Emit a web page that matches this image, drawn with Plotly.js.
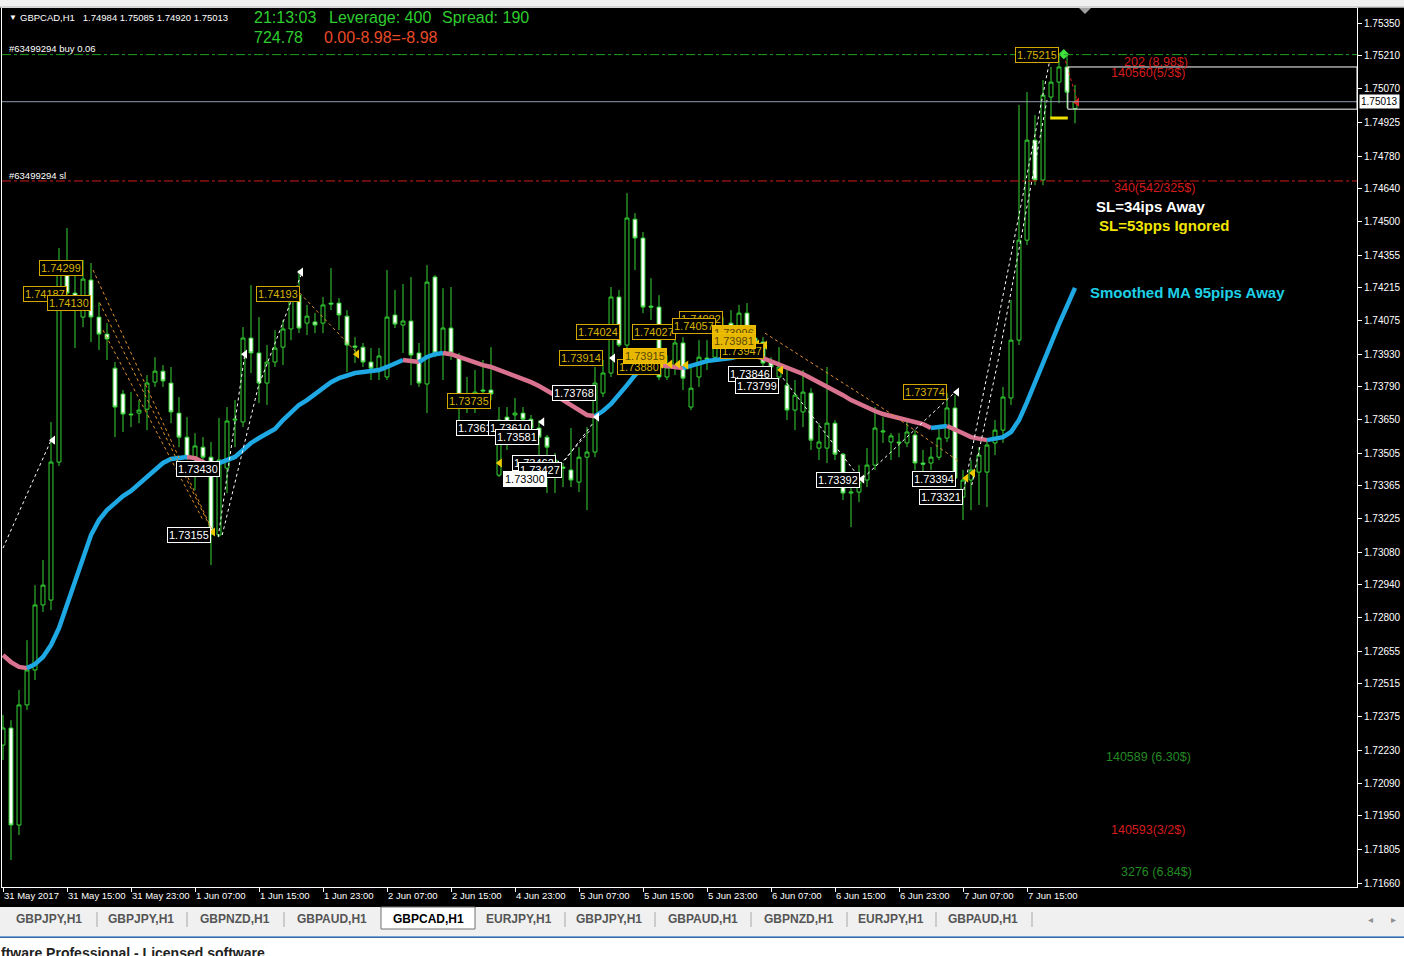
<!DOCTYPE html>
<html><head><meta charset="utf-8">
<script src="https://cdn.plot.ly/plotly-3.0.1.min.js"></script>
<style>html,body{margin:0;padding:0;background:#000;overflow:hidden}#chart{width:1404px;height:956px}</style>
</head><body><div id="chart"></div><script>
// ---------- DATA ----------
const opens=[1.72253,1.72326,1.71910,1.72425,1.72575,1.72854,1.72875,1.73467,1.74291,1.74192,
1.74089,1.74248,1.74089,1.74016,1.73870,1.73759,1.73673,1.73677,1.73694,1.73810,
1.73857,1.73806,1.73677,1.73574,1.73488,1.73531,1.73488,1.73154,1.73441,1.73647,
1.73639,1.73999,1.73935,1.73806,1.73896,1.73960,1.74038,1.74183,1.74063,1.74068,
1.74063,1.74149,1.74149,1.74093,1.73965,1.73960,1.73896,1.73862,1.73832,1.74098,
1.74055,1.74072,1.73935,1.73802,1.74261,1.73935,1.74042,1.73917,1.73703,1.73703,
1.73776,1.73776,1.73411,1.73660,1.73669,1.73677,1.73651,1.73613,1.73574,1.73433,
1.73446,1.73433,1.73381,1.73488,1.73510,1.73763,1.73849,1.74175,1.73969,1.74509,
1.74428,1.74136,1.74132,1.73832,1.73875,1.73978,1.73703,1.73832,1.73913,1.73917,
1.73982,1.74063,1.74020,1.74106,1.73999,1.73982,1.73896,1.73832,1.73797,1.73690,
1.73682,1.73763,1.73527,1.73527,1.73634,1.73501,1.73334,1.73338,1.73390,1.73454,
1.73596,1.73553,1.73553,1.73549,1.73583,1.73463,1.73463,1.73488,1.73570,1.73699,
1.73317,1.73390,1.73424,1.73424,1.73549,1.73604,1.73742,1.73990,1.74419,1.74848,
1.74677,1.75033,1.75097,1.75162,1.74984];
const highs=[1.72382,1.72360,1.72489,1.72703,1.72939,1.73047,1.73639,1.74385,1.74471,1.74334,
1.74334,1.74321,1.74153,1.74063,1.73896,1.73776,1.73767,1.73733,1.73840,1.73917,
1.73883,1.73875,1.73746,1.73660,1.73591,1.73574,1.73553,1.73656,1.73703,1.73733,
1.74046,1.74226,1.74089,1.73969,1.74033,1.74076,1.74205,1.74291,1.74141,1.74106,
1.74175,1.74299,1.74171,1.74119,1.74003,1.73978,1.73956,1.73956,1.74291,1.74205,
1.74231,1.74261,1.73978,1.74312,1.74269,1.74213,1.74218,1.73935,1.73832,1.73862,
1.73905,1.73960,1.73703,1.73703,1.73742,1.73703,1.73669,1.73647,1.73583,1.73506,
1.73463,1.73613,1.73531,1.73617,1.73875,1.73905,1.74218,1.74205,1.74621,1.74535,
1.74454,1.74256,1.74183,1.73926,1.74012,1.74003,1.73875,1.73990,1.73990,1.74076,
1.74089,1.74119,1.74141,1.74149,1.74020,1.74003,1.73917,1.73960,1.73862,1.73819,
1.73862,1.73784,1.73634,1.73875,1.73647,1.73506,1.73360,1.73454,1.73527,1.73703,
1.73660,1.73591,1.73591,1.73647,1.73604,1.73519,1.73531,1.73626,1.73763,1.73754,
1.73433,1.73476,1.73531,1.73561,1.73647,1.73789,1.74162,1.74999,1.75054,1.74956,
1.75106,1.75162,1.75215,1.75213,1.75085];
const lows=[1.72189,1.71760,1.71867,1.72403,1.72532,1.72824,1.72832,1.73450,1.74162,1.73956,
1.74046,1.73982,1.73948,1.73905,1.73574,1.73596,1.73617,1.73634,1.73604,1.73789,
1.73789,1.73634,1.73531,1.73476,1.73347,1.73463,1.73025,1.73145,1.73334,1.73531,
1.73617,1.73849,1.73720,1.73712,1.73875,1.73883,1.73990,1.74020,1.74012,1.74020,
1.74020,1.74119,1.74033,1.73853,1.73892,1.73875,1.73819,1.73819,1.73819,1.74042,
1.73935,1.73797,1.73789,1.73677,1.73917,1.73819,1.73905,1.73647,1.73677,1.73677,
1.73733,1.73733,1.73403,1.73519,1.73647,1.73634,1.73591,1.73463,1.73334,1.73334,
1.73360,1.73360,1.73338,1.73261,1.73488,1.73746,1.73832,1.73960,1.73948,1.74291,
1.74106,1.74076,1.73819,1.73819,1.73840,1.73776,1.73690,1.73789,1.73862,1.73905,
1.73969,1.74003,1.73999,1.73969,1.73935,1.73875,1.73862,1.73819,1.73647,1.73604,
1.73617,1.73519,1.73476,1.73463,1.73476,1.73304,1.73188,1.73295,1.73360,1.73433,
1.73549,1.73476,1.73488,1.73531,1.73433,1.73420,1.73433,1.73476,1.73553,1.73390,
1.73218,1.73261,1.73283,1.73274,1.73497,1.73549,1.73712,1.73969,1.74398,1.74655,
1.74655,1.74947,1.75007,1.74986,1.74920];
const closes=[1.72326,1.71910,1.72425,1.72575,1.72854,1.72939,1.73467,1.74278,1.74192,1.74162,
1.74252,1.74089,1.74016,1.73995,1.73703,1.73673,1.73670,1.73690,1.73806,1.73857,
1.73815,1.73682,1.73574,1.73488,1.73536,1.73488,1.73158,1.73476,1.73643,1.73651,
1.73999,1.73935,1.73806,1.73896,1.73956,1.74038,1.74162,1.74042,1.74093,1.74055,
1.74141,1.74145,1.74098,1.73969,1.73960,1.73896,1.73870,1.73922,1.74089,1.74059,
1.74072,1.73926,1.73806,1.74239,1.73935,1.74042,1.73935,1.73733,1.73733,1.73767,
1.73772,1.73759,1.73647,1.73634,1.73677,1.73651,1.73613,1.73574,1.73531,1.73476,
1.73441,1.73390,1.73488,1.73510,1.73806,1.73849,1.74175,1.73969,1.74514,1.74428,
1.74132,1.74132,1.73832,1.73875,1.73978,1.73827,1.73784,1.73917,1.73909,1.74020,
1.74046,1.74020,1.74106,1.73999,1.73982,1.73892,1.73875,1.73875,1.73690,1.73754,
1.73767,1.73561,1.73553,1.73634,1.73501,1.73334,1.73338,1.73381,1.73454,1.73613,
1.73600,1.73579,1.73549,1.73596,1.73463,1.73458,1.73488,1.73570,1.73699,1.73398,
1.73390,1.73433,1.73497,1.73540,1.73604,1.73746,1.73990,1.74419,1.74848,1.74677,
1.75041,1.75097,1.75162,1.75054,1.75013];
const smoothedMA=[1.72639,1.72609,1.72588,1.72583,1.72600,1.72631,1.72682,1.72755,1.72854,1.72952,
1.73064,1.73154,1.73218,1.73261,1.73291,1.73321,1.73343,1.73373,1.73407,1.73437,
1.73463,1.73480,1.73484,1.73489,1.73484,1.73467,1.73450,1.73463,1.73476,1.73489,
1.73519,1.73549,1.73570,1.73591,1.73609,1.73647,1.73682,1.73712,1.73733,1.73759,
1.73789,1.73810,1.73827,1.73840,1.73849,1.73853,1.73857,1.73862,1.73875,1.73892,
1.73905,1.73900,1.73896,1.73918,1.73930,1.73935,1.73930,1.73918,1.73905,1.73896,
1.73883,1.73875,1.73862,1.73853,1.73840,1.73827,1.73810,1.73793,1.73776,1.73754,
1.73733,1.73712,1.73690,1.73669,1.73664,1.73686,1.73716,1.73754,1.73797,1.73840,
1.73870,1.73879,1.73883,1.73879,1.73875,1.73870,1.73879,1.73892,1.73900,1.73905,
1.73909,1.73913,1.73922,1.73926,1.73922,1.73913,1.73900,1.73883,1.73870,1.73857,
1.73845,1.73827,1.73810,1.73793,1.73776,1.73754,1.73733,1.73716,1.73699,1.73686,
1.73673,1.73664,1.73656,1.73647,1.73639,1.73630,1.73613,1.73617,1.73622,1.73609,
1.73591,1.73574,1.73566,1.73561,1.73566,1.73574,1.73596,1.73647,1.73724,1.73810,
1.73896,1.73982,1.74059,1.74136,1.74214];
const dateTickBars=[0,8,16,24,32,40,48,56,64,72,80,88,96,104,112,120,128];
const dateLabels=["31 May 2017","31 May 15:00","31 May 23:00","1 Jun 07:00","1 Jun 15:00","1 Jun 23:00","2 Jun 07:00","2 Jun 15:00","4 Jun 23:00","5 Jun 07:00","5 Jun 15:00","5 Jun 23:00","6 Jun 07:00","6 Jun 15:00","6 Jun 23:00","7 Jun 07:00","7 Jun 15:00"];
const priceTicks=[1.75350,1.75210,1.75070,1.74925,1.74780,1.74640,1.74500,1.74355,1.74215,1.74075,1.73930,1.73790,1.73650,1.73505,1.73365,1.73225,1.73080,1.72940,1.72800,1.72655,1.72515,1.72375,1.72230,1.72090,1.71950,1.71805,1.71660];
const buyPrice=1.75215, slPrice=1.74673, bidPrice=1.75013;
// fractal price labels
const yLabelText=["1.74299","1.74187","1.74130","1.74193","1.73735","1.74024","1.74027","1.73914","1.73880","1.74082","1.74057","1.73947","1.73774","1.75215"];
const yLabelBar=[4.5,2.5,5.5,31.6,55.5,71.6,78.6,69.5,76.75,84.5,83.6,89.6,112.5,126.5];
const yLabelPrice=[1.74299,1.74188,1.74149,1.74188,1.73729,1.74025,1.74025,1.73913,1.73875,1.74080,1.74050,1.73943,1.73767,1.75213];
const yFillText=["1.73915","1.73996","1.73981"];
const yFillBar=[77.5,88.6,88.6];
const yFillPrice=[1.73922,1.74020,1.73986];
const wLabelText=["1.73430","1.73155","1.73768","1.73612","1.73610","1.73581","1.73462","1.73427","1.73846","1.73799","1.73392","1.73394","1.73321"];
const wLabelBar=[21.6,20.5,68.6,56.6,60.6,61.5,63.6,64.4,90.6,91.5,101.6,113.6,114.5];
const wLabelPrice=[1.73437,1.73154,1.73763,1.73613,1.73613,1.73574,1.73463,1.73433,1.73845,1.73793,1.73390,1.73394,1.73317];
const wFillText=["1.73300"], wFillBar=[62.5], wFillPrice=[1.73394];
// zigzag dotted lines [bars],[prices]
const whiteZig=[
 [[0,6.125],[1.73098,1.73570]],
 [[26.9,30.25],[1.73145,1.73935]],
 [[27.4,31.9,37.4],[1.73154,1.73789,1.74282]],
 [[70.25,73.75],[1.73476,1.73634]],
 [[69.6,73.4],[1.73454,1.73604]],
 [[97.5,106.9],[1.73827,1.73407]],
 [[107.5,119],[1.73398,1.73767]],
 [[120.1,123.4,130.9],[1.73347,1.73905,1.75200]],
 [[121.1,124.4,130.5],[1.73368,1.73905,1.75020]]];
const orangeZig=[
 [[11.25,26.25],[1.74291,1.73167]],
 [[12.1,25.9],[1.74149,1.73188]],
 [[12.5,25.0],[1.74033,1.73218]],
 [[37.1,44.25],[1.74192,1.73935]],
 [[95.25,103.4,110.9,119.6],[1.74020,1.73840,1.73677,1.73467]]];
const redZig=[[132.6,134.25],[1.75213,1.75020]];
const whiteArrowBar=[6.25,30.25,37.25,67.4,69.25,74.25,76.25,119.25,107.4];
const whiteArrowPrice=[1.73561,1.73930,1.74282,1.73639,1.73454,1.73660,1.73913,1.73767,1.73394];
const yellowArrowBar=[26.25,44.25,62.1,82.25,83.4,84.4,85.4,94.25,95.25,97.25,120.4,121.25];
const yellowArrowPrice=[1.73167,1.73930,1.73463,1.73887,1.73887,1.73887,1.73883,1.73973,1.73969,1.73862,1.73398,1.73420];
const tabNames=["GBPJPY,H1","GBPJPY,H1","GBPNZD,H1","GBPAUD,H1","GBPCAD,H1","EURJPY,H1","GBPJPY,H1","GBPAUD,H1","GBPNZD,H1","EURJPY,H1","GBPAUD,H1"];
const activeTab=4;

// ---------- LAYOUT HELPERS ----------
const FONT='Liberation Sans, Arial, sans-serif';
const PL=2, PR=1357, PT=8, PB=887;
const px=x=>(x-PL)/(PR-PL);
const py=y=>(PB-y)/(PB-PT);
const bars=opens.map((_,i)=>i);
const GREEN='#35d435';

const traces=[];
traces.push({type:'candlestick',x:bars,open:opens,high:highs,low:lows,close:closes,
  increasing:{line:{color:GREEN,width:1},fillcolor:'#000000'},
  decreasing:{line:{color:GREEN,width:1},fillcolor:'#ffffff'},
  whiskerwidth:0,hoverinfo:'skip'});
// smoothed MA, coloured by slope
(function(){
  let cur=null; const segs=[];
  for(let i=1;i<smoothedMA.length;i++){
    const d=smoothedMA[i]-smoothedMA[i-1];
    const up=d>0?true:d<0?false:(cur?cur.up:true);
    if(!cur||cur.up!==up){cur={up,x:[i-1],y:[smoothedMA[i-1]]};segs.push(cur);}
    cur.x.push(i);cur.y.push(smoothedMA[i]);
  }
  segs.forEach(s=>traces.push({type:'scatter',mode:'lines',x:s.x,y:s.y,
    line:{color:s.up?'#1fa9e4':'#d9728f',width:4.5},hoverinfo:'skip'}));
})();
whiteZig.forEach(z=>traces.push({type:'scatter',mode:'lines',x:z[0],y:z[1],line:{color:'#ffffff',width:1,dash:'dot'},hoverinfo:'skip'}));
orangeZig.forEach(z=>traces.push({type:'scatter',mode:'lines',x:z[0],y:z[1],line:{color:'#e0902a',width:1,dash:'dot'},hoverinfo:'skip'}));
traces.push({type:'scatter',mode:'lines',x:redZig[0],y:redZig[1],line:{color:'#e02020',width:1,dash:'dot'},hoverinfo:'skip'});
traces.push({type:'scatter',mode:'markers',x:whiteArrowBar,y:whiteArrowPrice,marker:{symbol:'triangle-left',size:8,color:'#ffffff'},hoverinfo:'skip'});
traces.push({type:'scatter',mode:'markers',x:yellowArrowBar,y:yellowArrowPrice,marker:{symbol:'triangle-left',size:8,color:'#f0c800'},hoverinfo:'skip'});
traces.push({type:'scatter',mode:'markers',x:[132.6],y:[1.75217],marker:{symbol:'diamond',size:8,color:'#40e040'},hoverinfo:'skip'});
traces.push({type:'scatter',mode:'markers',x:[134.25],y:[1.75011],marker:{symbol:'triangle-left',size:8,color:'#e02020'},hoverinfo:'skip'});

// ---------- SHAPES ----------
const shapes=[];
function rectPx(x0,y0,x1,y1,fill,line){shapes.push({type:'rect',xref:'paper',yref:'paper',x0:px(x0),x1:px(x1),y0:py(y0),y1:py(y1),fillcolor:fill,line:line||{width:0},layer:'above'});}
function linePx(x0,y0,x1,y1,color,w){shapes.push({type:'line',xref:'paper',yref:'paper',x0:px(x0),x1:px(x1),y0:py(y0),y1:py(y1),line:{color,width:w||1},layer:'above'});}
function hline(p,color,dash,w){shapes.push({type:'line',xref:'paper',yref:'y',x0:0,x1:1,y0:p,y1:p,line:{color,width:w||1,dash},layer:'above'});}
hline(buyPrice,'#20a020','dashdot');
hline(slPrice,'#d01c1c','dashdot');
hline(bidPrice,'#8f9bb0','solid');
// order box
shapes.push({type:'rect',xref:'x',yref:'y',x0:133.1,x1:169.25,y0:1.74981,y1:1.75162,line:{color:'#ffffff',width:1},fillcolor:'rgba(0,0,0,0)',layer:'above'});
shapes.push({type:'line',xref:'x',yref:'y',x0:130.9,x1:133.1,y0:1.74943,y1:1.74943,line:{color:'#f0e000',width:3},layer:'above'});
// window chrome
rectPx(-5,-5,1410,7.5,'#f0f0f0');
linePx(-5,7,1410,7,'#b8b8b8',1);
shapes.push({type:'path',xref:'paper',yref:'paper',path:`M ${px(1079)} ${py(8)} L ${px(1091)} ${py(8)} L ${px(1085)} ${py(14)} Z`,fillcolor:'#a0a0a0',line:{width:0},layer:'above'});
rectPx(-5,907,1410,937,'#f0f0f0');
linePx(-5,937,1410,937,'#4a8ad0',1.5);
rectPx(-5,938,1410,960,'#ffffff');
rectPx(381,907,475,929,'#ffffff',{color:'#707070',width:1});
[97,187,284,565,655,751,847,936,1032].forEach(x=>linePx(x,912,x,927,'#a8a8a8',1));

// ---------- ANNOTATIONS ----------
const ann=[];
function txt(x,y,text,color,size,extra){ann.push(Object.assign({xref:'paper',yref:'paper',x:px(x),y:py(y),text,showarrow:false,xanchor:'left',yanchor:'middle',font:{family:FONT,size,color}},extra||{}));}
txt(7,17,'▼','#ffffff',8);
txt(18,17,'GBPCAD,H1\u00a0\u00a0 1.74984 1.75085 1.74920 1.75013','#ffffff',9.5);
txt(252,18,'21:13:03','#2ecc2e',16);
txt(327,18,'Leverage: 400','#2ecc2e',16);
txt(440,18,'Spread: 190','#2ecc2e',16);
txt(252,38,'724.78','#2ecc2e',16);
txt(322,38,'0.00-8.98=-8.98','#e84a27',16);
txt(7,49,'#63499294 buy 0.06','#ffffff',9.5);
txt(7,175,'#63499294 sl','#ffffff',9.5);
txt(1122,62,'202 (8.98$)','#d41c1c',12.5);
txt(1109,73,'140560(5/3$)','#d41c1c',12.5);
txt(1112,188,'340(542/325$)','#d41c1c',12.5);
txt(1094,206,'<b>SL=34ips Away</b>','#ffffff',15);
txt(1097,225,'<b>SL=53pps Ignored</b>','#f2e600',15);
txt(1088,292,'<b>Smoothed MA 95pips Away</b>','#1ed0e6',15);
txt(1104,757,'140589 (6.30$)','#238a23',12.5);
txt(1109,830,'140593(3/2$)','#d41c1c',12.5);
txt(1119,872,'3276 (6.84$)','#238a23',12.5);
// price labels
function boxLabel(t,b,p,border,color,bg){ann.push({xref:'x',yref:'y',x:b,y:p,text:t,showarrow:false,xanchor:'left',yanchor:'middle',
  font:{family:FONT,size:11,color},bordercolor:border,borderwidth:1,borderpad:1,bgcolor:bg,height:12});}
yLabelText.forEach((t,i)=>boxLabel(t,yLabelBar[i],yLabelPrice[i],'#d4a800','#d8b400','#000000'));
yFillText.forEach((t,i)=>boxLabel(t,yFillBar[i],yFillPrice[i],'#f0c000','#5a4800','#e8b800'));
wLabelText.forEach((t,i)=>boxLabel(t,wLabelBar[i],wLabelPrice[i],'#ffffff','#ffffff','#000000'));
wFillText.forEach((t,i)=>boxLabel(t,wFillBar[i],wFillPrice[i],'#ffffff','#000000','#ffffff'));
// date labels
dateLabels.forEach((t,i)=>ann.push({xref:'x',yref:'paper',x:dateTickBars[i],y:py(896),text:t,showarrow:false,xanchor:'left',yanchor:'middle',xshift:-1,font:{family:FONT,size:9.5,color:'#ffffff'}}));
// current price tag
ann.push({xref:'paper',yref:'y',x:px(1359),y:bidPrice,text:bidPrice.toFixed(5),showarrow:false,xanchor:'left',yanchor:'middle',bgcolor:'#ffffff',font:{family:FONT,size:10,color:'#000000'},borderpad:1});
// tabs
const tabCenters=[49,141,235,332,428,519,609,703,799,891,983];
tabNames.forEach((t,i)=>ann.push({xref:'paper',yref:'paper',x:px(tabCenters[i]),y:py(919),text:'<b>'+t+'</b>',showarrow:false,xanchor:'center',yanchor:'middle',font:{family:FONT,size:12,color:i===activeTab?'#000000':'#555555'}}));
txt(1366,919,'◂','#909090',10);
txt(1389,919,'▸','#909090',10);
ann.push({xref:'paper',yref:'paper',x:px(-1),y:py(943),text:'<b>ftware Professional - Licensed software</b>',showarrow:false,xanchor:'left',yanchor:'top',font:{family:FONT,size:14,color:'#222222'}});

const layout={width:1404,height:956,paper_bgcolor:'#000000',plot_bgcolor:'#000000',
  margin:{l:PL,r:1404-PR,t:PT,b:956-PB},showlegend:false,hovermode:false,
  xaxis:{range:[-0.125,169.25],showgrid:false,zeroline:false,showline:true,linecolor:'#ffffff',linewidth:1,mirror:true,
    ticks:'outside',ticklen:4,tickcolor:'#ffffff',tickvals:dateTickBars,showticklabels:false,rangeslider:{visible:false},fixedrange:true},
  yaxis:{side:'right',range:[1.71644,1.75415],showgrid:false,zeroline:false,showline:true,linecolor:'#ffffff',linewidth:1,mirror:true,
    ticks:'outside',ticklen:4,tickcolor:'#ffffff',tickvals:priceTicks,ticktext:priceTicks.map(v=>v.toFixed(5)),
    tickfont:{family:FONT,size:10,color:'#ffffff'},fixedrange:true},
  shapes,annotations:ann};
Plotly.newPlot('chart',traces,layout,{staticPlot:true,displayModeBar:false});
</script></body></html>
